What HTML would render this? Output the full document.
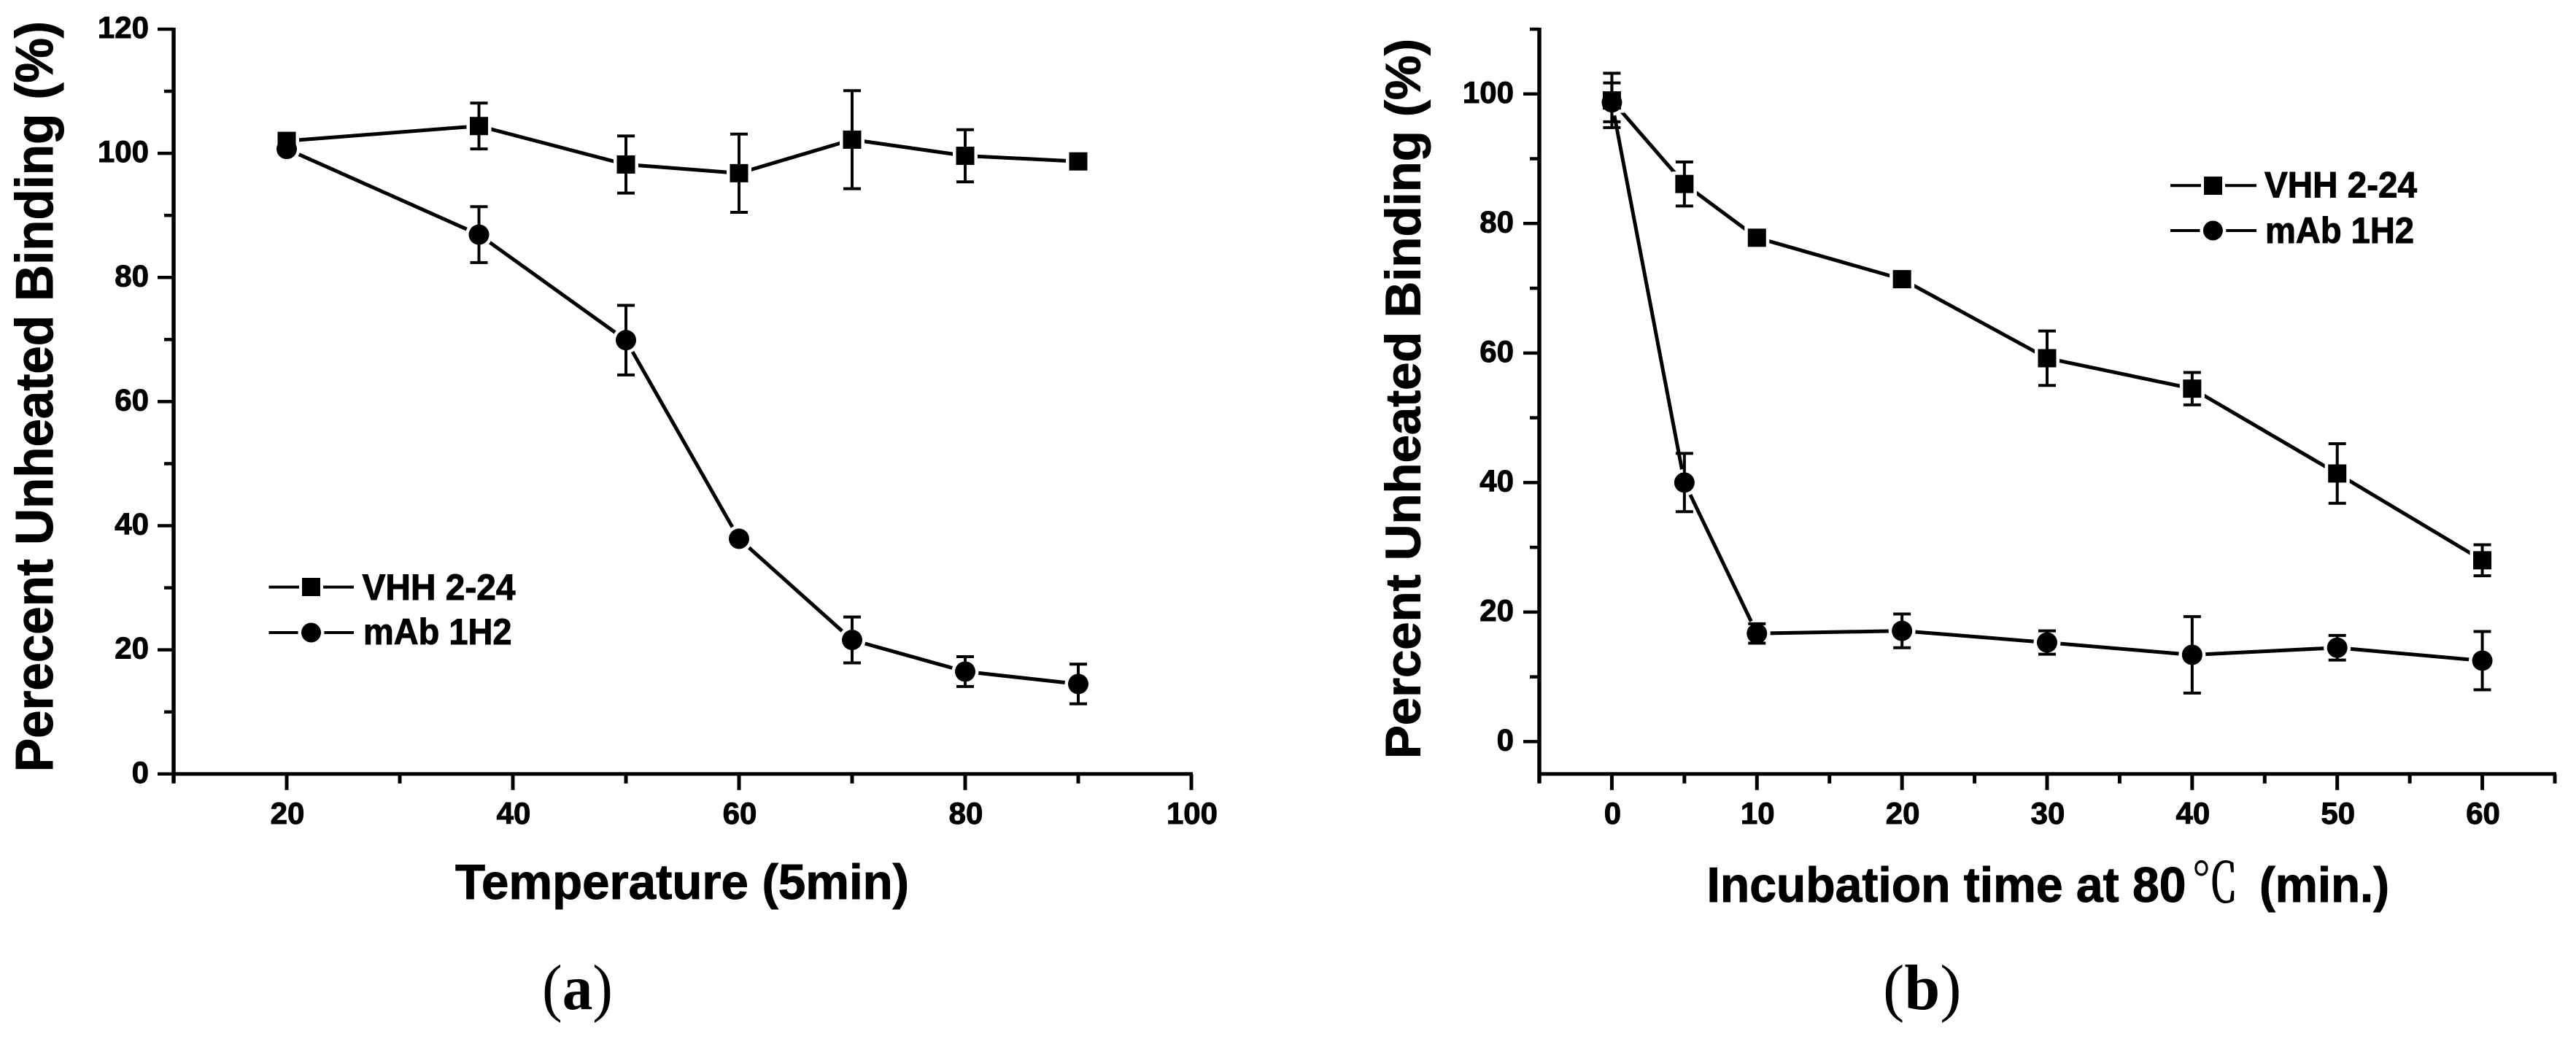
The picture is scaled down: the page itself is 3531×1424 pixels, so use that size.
<!DOCTYPE html>
<html lang="en">
<head>
<meta charset="utf-8">
<title>Thermal stability of VHH 2-24 and mAb 1H2</title>
<style>
html,body{margin:0;padding:0;background:#fff;}
svg{display:block;}
text{font-family:"Liberation Sans","Noto Sans CJK SC",sans-serif;font-weight:bold;fill:#000;stroke:#000;stroke-width:1;}
.cap{font-family:"Liberation Serif","Noto Serif CJK SC",serif;font-size:88px;font-weight:normal;stroke:none;}
</style>
</head>
<body>
<svg id="chart" xmlns="http://www.w3.org/2000/svg" width="3531" height="1424" viewBox="0 0 3531 1424">
  <rect x="0" y="0" width="3531" height="1424" fill="#fff"/>

  <g id="panel-a"></g>
  <g id="panel-b"></g>

  <text transform="translate(72,1058) rotate(-90)" font-size="72" textLength="1029" lengthAdjust="spacingAndGlyphs">Perecent Unheated Binding (%)</text>
  <text x="624" y="1232" font-size="68" textLength="622" lengthAdjust="spacingAndGlyphs">Temperature (5min)</text>

  <text transform="translate(1946.5,1040) rotate(-90)" font-size="68" textLength="987" lengthAdjust="spacingAndGlyphs">Percent Unheated Binding (%)</text>
  <text y="1236" font-size="68"><tspan x="2339.5" textLength="657" lengthAdjust="spacingAndGlyphs">Incubation time at 80</tspan><tspan x="3004" font-size="74" textLength="64" lengthAdjust="spacingAndGlyphs" style="font-family:'Noto Serif CJK SC','Noto Sans CJK SC',serif;font-weight:normal">℃</tspan> <tspan x="3097" textLength="178" lengthAdjust="spacingAndGlyphs">(min.)</tspan></text>

  <g>
    <g>
      <line x1="368.5" y1="804.6" x2="485" y2="804.6" stroke="#000" stroke-width="4"/>
      <rect x="410" y="788" width="33" height="33" fill="#fff"/>
      <rect x="414" y="792" width="25" height="25" fill="#000"/>
      <text x="496.5" y="822" font-size="50" textLength="210" lengthAdjust="spacingAndGlyphs">VHH 2-24</text>
    </g>
    <g>
      <line x1="368.5" y1="867" x2="485" y2="867" stroke="#000" stroke-width="4"/>
      <circle cx="426.5" cy="867" r="18" fill="#fff"/>
      <circle cx="426.5" cy="867" r="13.5" fill="#000"/>
      <text x="498" y="883" font-size="50" textLength="203.5" lengthAdjust="spacingAndGlyphs">mAb 1H2</text>
    </g>
  </g>

  <g>
    <g>
      <line x1="2975" y1="254.3" x2="3093" y2="254.3" stroke="#000" stroke-width="4"/>
      <rect x="3017" y="238" width="33" height="33" fill="#fff"/>
      <rect x="3021" y="242" width="25" height="25" fill="#000"/>
      <text x="3104" y="270.6" font-size="50" textLength="209" lengthAdjust="spacingAndGlyphs">VHH 2-24</text>
    </g>
    <g>
      <line x1="2975" y1="316" x2="3093" y2="316" stroke="#000" stroke-width="4"/>
      <circle cx="3033.4" cy="316" r="18" fill="#fff"/>
      <circle cx="3033.4" cy="316" r="13.5" fill="#000"/>
      <text x="3105" y="333" font-size="50" textLength="204" lengthAdjust="spacingAndGlyphs">mAb 1H2</text>
    </g>
  </g>

  <text class="cap" x="743" y="1383" textLength="97" lengthAdjust="spacingAndGlyphs">(<tspan font-weight="bold">a</tspan>)</text>
  <text class="cap" x="2581" y="1383">(<tspan font-weight="bold">b</tspan>)</text>
</svg>

<script>
// Panel (a) data
const aCategories = [20, 37, 50, 60, 70, 80, 90];
const aVhhValues = [102, 104.4, 98.2, 96.8, 102.2, 99.6, 98.7];
const aVhhErrors = [0, 3.7, 4.6, 6.3, 7.9, 4.2, 0];
const aMabValues = [100.7, 86.9, 69.9, 37.9, 21.6, 16.5, 14.5];
const aMabErrors = [0, 4.5, 5.6, 0, 3.7, 2.4, 3.2];
const aXMajorTicks = [20, 40, 60, 80, 100];
const aXMinorTicks = [10, 30, 50, 70, 90];
const aYMajorTicks = [0, 20, 40, 60, 80, 100, 120];
const aYMinorTicks = [10, 30, 50, 70, 90, 110];

// Panel (b) data
const bCategories = [0, 5, 10, 20, 30, 40, 50, 60];
const bVhhValues = [99, 86.1, 77.8, 71.4, 59.2, 54.5, 41.4, 28];
const bVhhErrors = [4.2, 3.4, 0, 0, 4.2, 2.5, 4.6, 2.4];
const bMabValues = [98.7, 40, 16.7, 17.1, 15.3, 13.4, 14.5, 12.5];
const bMabErrors = [3, 4.5, 1.5, 2.6, 1.8, 5.9, 1.9, 4.5];
const bXMajorTicks = [0, 10, 20, 30, 40, 50, 60];
const bXMinorTicks = [-5, 5, 15, 25, 35, 45, 55, 65];
const bYMajorTicks = [0, 20, 40, 60, 80, 100];
const bYMinorTicks = [10, 30, 50, 70, 90, 110];

const NS = 'http://www.w3.org/2000/svg';

function svgEl(parent, tag, attrs, text) {
  const node = document.createElementNS(NS, tag);
  for (const key in attrs) node.setAttribute(key, attrs[key]);
  if (text !== undefined) node.textContent = text;
  parent.appendChild(node);
  return node;
}

function linearScale(d0, d1, r0, r1) {
  return function (v) { return r0 + (v - d0) * (r1 - r0) / (d1 - d0); };
}

function drawPanel(root, frame, cats, xMajor, xMinor, yMajor, yMinor, series) {
  const xA = linearScale(frame.xMin, frame.xMax, frame.left, frame.right);
  const yA = linearScale(frame.yMin, frame.yMax, frame.bottom, frame.top);

  const yAxis = svgEl(root, 'line', {x1: frame.left, y1: frame.top - 2, x2: frame.left, y2: frame.bottom + 12, stroke: '#000', 'stroke-width': 5.5});
  
  

  const xAxis = svgEl(root, 'line', {x1: frame.left - 2, y1: frame.bottom, x2: frame.right + 2, y2: frame.bottom, stroke: '#000', 'stroke-width': 5});
  
  

  yMajor.forEach(function (v) {
    const tick = svgEl(root, 'line', {x1: frame.left - 22, y1: yA(v), x2: frame.left, y2: yA(v), stroke: '#000', 'stroke-width': 4.5});
    
    
    const label = svgEl(root, 'text', {x: frame.yLabelRight, y: yA(v) + 12, 'text-anchor': 'end', 'font-size': 42}, String(v));
    
    
  });
  yMinor.forEach(function (v) {
    const tick = svgEl(root, 'line', {x1: frame.left - 13, y1: yA(v), x2: frame.left, y2: yA(v), stroke: '#000', 'stroke-width': 4.5});
    
    
  });
  xMajor.forEach(function (v) {
    const tick = svgEl(root, 'line', {x1: xA(v), y1: frame.bottom, x2: xA(v), y2: frame.bottom + 22, stroke: '#000', 'stroke-width': 5});
    
    
    const label = svgEl(root, 'text', {x: xA(v) + 1, y: 1129, 'text-anchor': 'middle', 'font-size': 42}, String(v));
    
    
  });
  xMinor.forEach(function (v) {
    const tick = svgEl(root, 'line', {x1: xA(v), y1: frame.bottom, x2: xA(v), y2: frame.bottom + 13, stroke: '#000', 'stroke-width': 5});
    
    
  });

  // connecting lines
  series.forEach(function (s) {
    const pts = cats.map(function (c, i) { return xA(c).toFixed(1) + ',' + yA(s.values[i]).toFixed(1); }).join(' ');
    const line = svgEl(root, 'polyline', {points: pts, fill: 'none', stroke: '#000', 'stroke-width': 5, 'stroke-linejoin': 'round'});
    
    
  });

  // white halos that open the gap between line and marker
  series.forEach(function (s) {
    cats.forEach(function (c, i) {
      const cx = xA(c), cy = yA(s.values[i]);
      const halo = s.shape === 'square'
        ? svgEl(root, 'rect', {x: cx - 17, y: cy - 17, width: 34, height: 34, fill: '#fff'})
        : svgEl(root, 'circle', {cx: cx, cy: cy, r: 18.5, fill: '#fff'});
      
      
    });
  });

  // error bars
  series.forEach(function (s) {
    cats.forEach(function (c, i) {
      const e = s.errors[i];
      if (!e) return;
      const cx = xA(c), hi = yA(s.values[i] + e), lo = yA(s.values[i] - e);
      const bar = svgEl(root, 'path', {
        d: 'M' + (cx - 12) + ' ' + hi + 'H' + (cx + 12) + 'M' + cx + ' ' + hi + 'V' + lo + 'M' + (cx - 12) + ' ' + lo + 'H' + (cx + 12),
        fill: 'none', stroke: '#000', 'stroke-width': 4
      });
      
      
    });
  });

  // markers
  series.forEach(function (s) {
    cats.forEach(function (c, i) {
      const cx = xA(c), cy = yA(s.values[i]);
      const mark = s.shape === 'square'
        ? svgEl(root, 'rect', {x: cx - 12.5, y: cy - 12.5, width: 25, height: 25, fill: '#000'})
        : svgEl(root, 'circle', {cx: cx, cy: cy, r: 14, fill: '#000'});
      
      
    });
  });
}

drawPanel(
  document.getElementById('panel-a'),
  {left: 238, right: 1633, top: 40, bottom: 1060.8, xMin: 10, xMax: 100, yMin: 0, yMax: 120, yLabelRight: 204},
  aCategories, aXMajorTicks, aXMinorTicks, aYMajorTicks, aYMinorTicks,
  [
    {name: 'vhh-2-24', shape: 'square', values: aVhhValues, errors: aVhhErrors},
    {name: 'mab-1h2', shape: 'circle', values: aMabValues, errors: aMabErrors}
  ]
);

drawPanel(
  document.getElementById('panel-b'),
  {left: 2110, right: 3502, top: 40, bottom: 1060.8, xMin: -5, xMax: 65, yMin: -5, yMax: 110, yLabelRight: 2075},
  bCategories, bXMajorTicks, bXMinorTicks, bYMajorTicks, bYMinorTicks,
  [
    {name: 'vhh-2-24', shape: 'square', values: bVhhValues, errors: bVhhErrors},
    {name: 'mab-1h2', shape: 'circle', values: bMabValues, errors: bMabErrors}
  ]
);
</script>
</body>
</html>
